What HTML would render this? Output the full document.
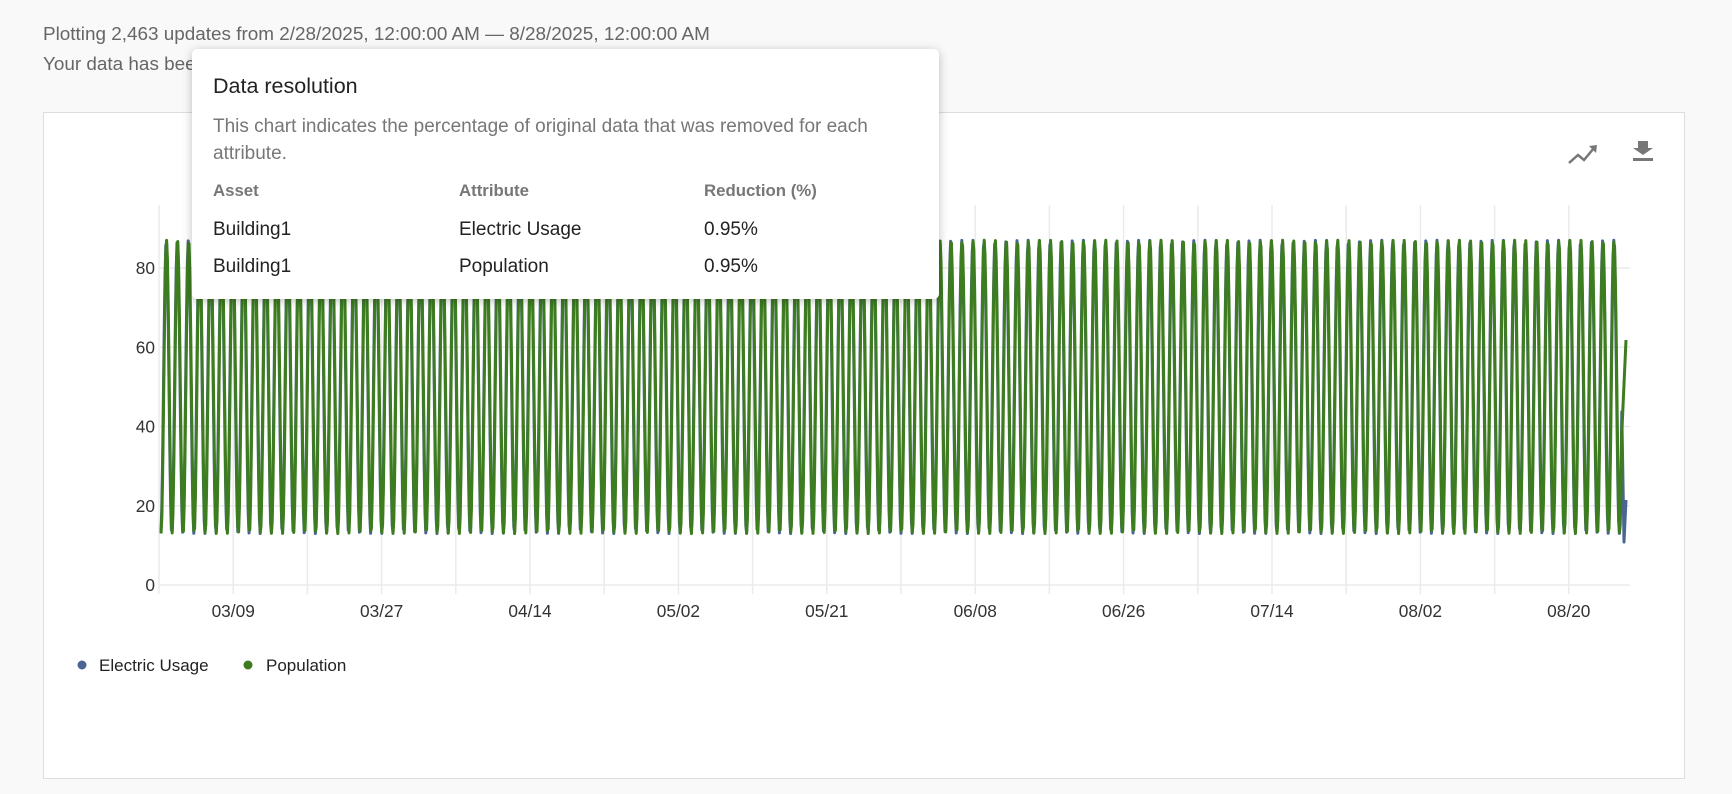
<!DOCTYPE html>
<html><head><meta charset="utf-8"><style>
*{margin:0;padding:0;box-sizing:border-box}
body{width:1732px;height:794px;background:#f9f9f9;font-family:"Liberation Sans",sans-serif;position:relative;overflow:hidden}
.t{position:absolute;left:43px;color:#666;font-size:18.9px}
.card{position:absolute;left:43px;top:112px;width:1642px;height:667px;background:#fff;border:1px solid #ddd}
.pop{position:absolute;left:192px;top:49px;width:747px;height:250px;background:#fff;border-radius:5px;box-shadow:0 2px 10px rgba(0,0,0,.25)}
.pop div{position:absolute;white-space:nowrap}
</style></head><body>
<div class="t" style="top:24px">Plotting 2,463 updates from 2/28/2025, 12:00:00 AM — 8/28/2025, 12:00:00 AM</div>
<div class="t" style="top:54px">Your data has been downsampled.</div>
<div class="card"></div>
<svg id="s" width="1732" height="794" style="position:absolute;left:0;top:0">
<g stroke="#ebebeb" stroke-width="1.5" id="grid"></g>
<g font-size="17.3" fill="#333" font-family="Liberation Sans" id="lab"></g>
<polyline id="b" fill="none" stroke="#4a6594" stroke-width="3" stroke-linejoin="round"/>
<polyline id="g" fill="none" stroke="#3d7c1f" stroke-width="3" stroke-linejoin="round"/>
<circle cx="82" cy="665" r="4.5" fill="#4a6594"/><text x="99" y="671" font-size="17" fill="#222" font-family="Liberation Sans">Electric Usage</text>
<circle cx="248" cy="665" r="4.5" fill="#3d7c1f"/><text x="266" y="671" font-size="17" fill="#222" font-family="Liberation Sans">Population</text>
<polyline points="1569,163 1578,155 1584,160 1594,148" fill="none" stroke="#777" stroke-width="2.5"/>
<polygon points="1589,146 1597,145 1596,153" fill="#777"/>
<polygon points="1638,141 1648,141 1648,148 1653,148 1643,155 1633,148 1638,148" fill="#777"/>
<rect x="1633" y="158" width="20" height="3" fill="#777"/>
</svg>
<div class="pop">
<div style="left:21px;top:25px;font-size:21.5px;color:#222">Data resolution</div>
<div style="left:21px;top:65px;font-size:19px;color:#777;line-height:26.5px">This chart indicates the percentage of original data that was removed for each<br>attribute.</div>
<div style="left:21px;top:132px;font-size:16.8px;color:#777;font-weight:bold">Asset</div>
<div style="left:267px;top:132px;font-size:16.8px;color:#777;font-weight:bold">Attribute</div>
<div style="left:512px;top:132px;font-size:16.8px;color:#777;font-weight:bold">Reduction (%)</div>
<div style="left:21px;top:170px;font-size:19px;color:#222">Building1</div>
<div style="left:267px;top:170px;font-size:19px;color:#222">Electric Usage</div>
<div style="left:512px;top:170px;font-size:19px;color:#222">0.95%</div>
<div style="left:21px;top:207px;font-size:19px;color:#222">Building1</div>
<div style="left:267px;top:207px;font-size:19px;color:#222">Population</div>
<div style="left:512px;top:207px;font-size:19px;color:#222">0.95%</div>
</div>
<script>
var ns="http://www.w3.org/2000/svg",grid=document.getElementById("grid"),lab=document.getElementById("lab");
function el(p,t,a,txt){var e=document.createElementNS(ns,t);for(var k in a)e.setAttribute(k,a[k]);if(txt)e.textContent=txt;p.appendChild(e);}
var y0=585,py=3.9625;
[0,20,40,60,80].forEach(function(v){var y=y0-v*py;el(grid,"line",{x1:160,x2:1630,y1:y,y2:y});el(lab,"text",{x:155,y:y+6,"text-anchor":"end"},""+v);});
var L=["03/09","03/27","04/14","05/02","05/21","06/08","06/26","07/14","08/02","08/20"];
for(var i=0;i<20;i++){var x=159+i*74.2;if(x>1630)break;el(grid,"line",{x1:x,x2:x,y1:205,y2:594});
 if(i%2==1){el(lab,"text",{x:x,y:617,"text-anchor":"middle"},L[(i-1)/2]);}}
function wave(ph,end){var p=[],per=11.05;for(var x=161;x<=1622;x+=0.8){var v=50-37*Math.cos((x-161)/per*2*Math.PI+ph);p.push(x.toFixed(1)+","+(y0-v*py).toFixed(1));}
 p.push(end);return p.join(" ");}
document.getElementById("b").setAttribute("points",wave(0.15,"1624,542 1626,500"));
document.getElementById("g").setAttribute("points",wave(0,"1626,340"));
</script>
</body></html>
